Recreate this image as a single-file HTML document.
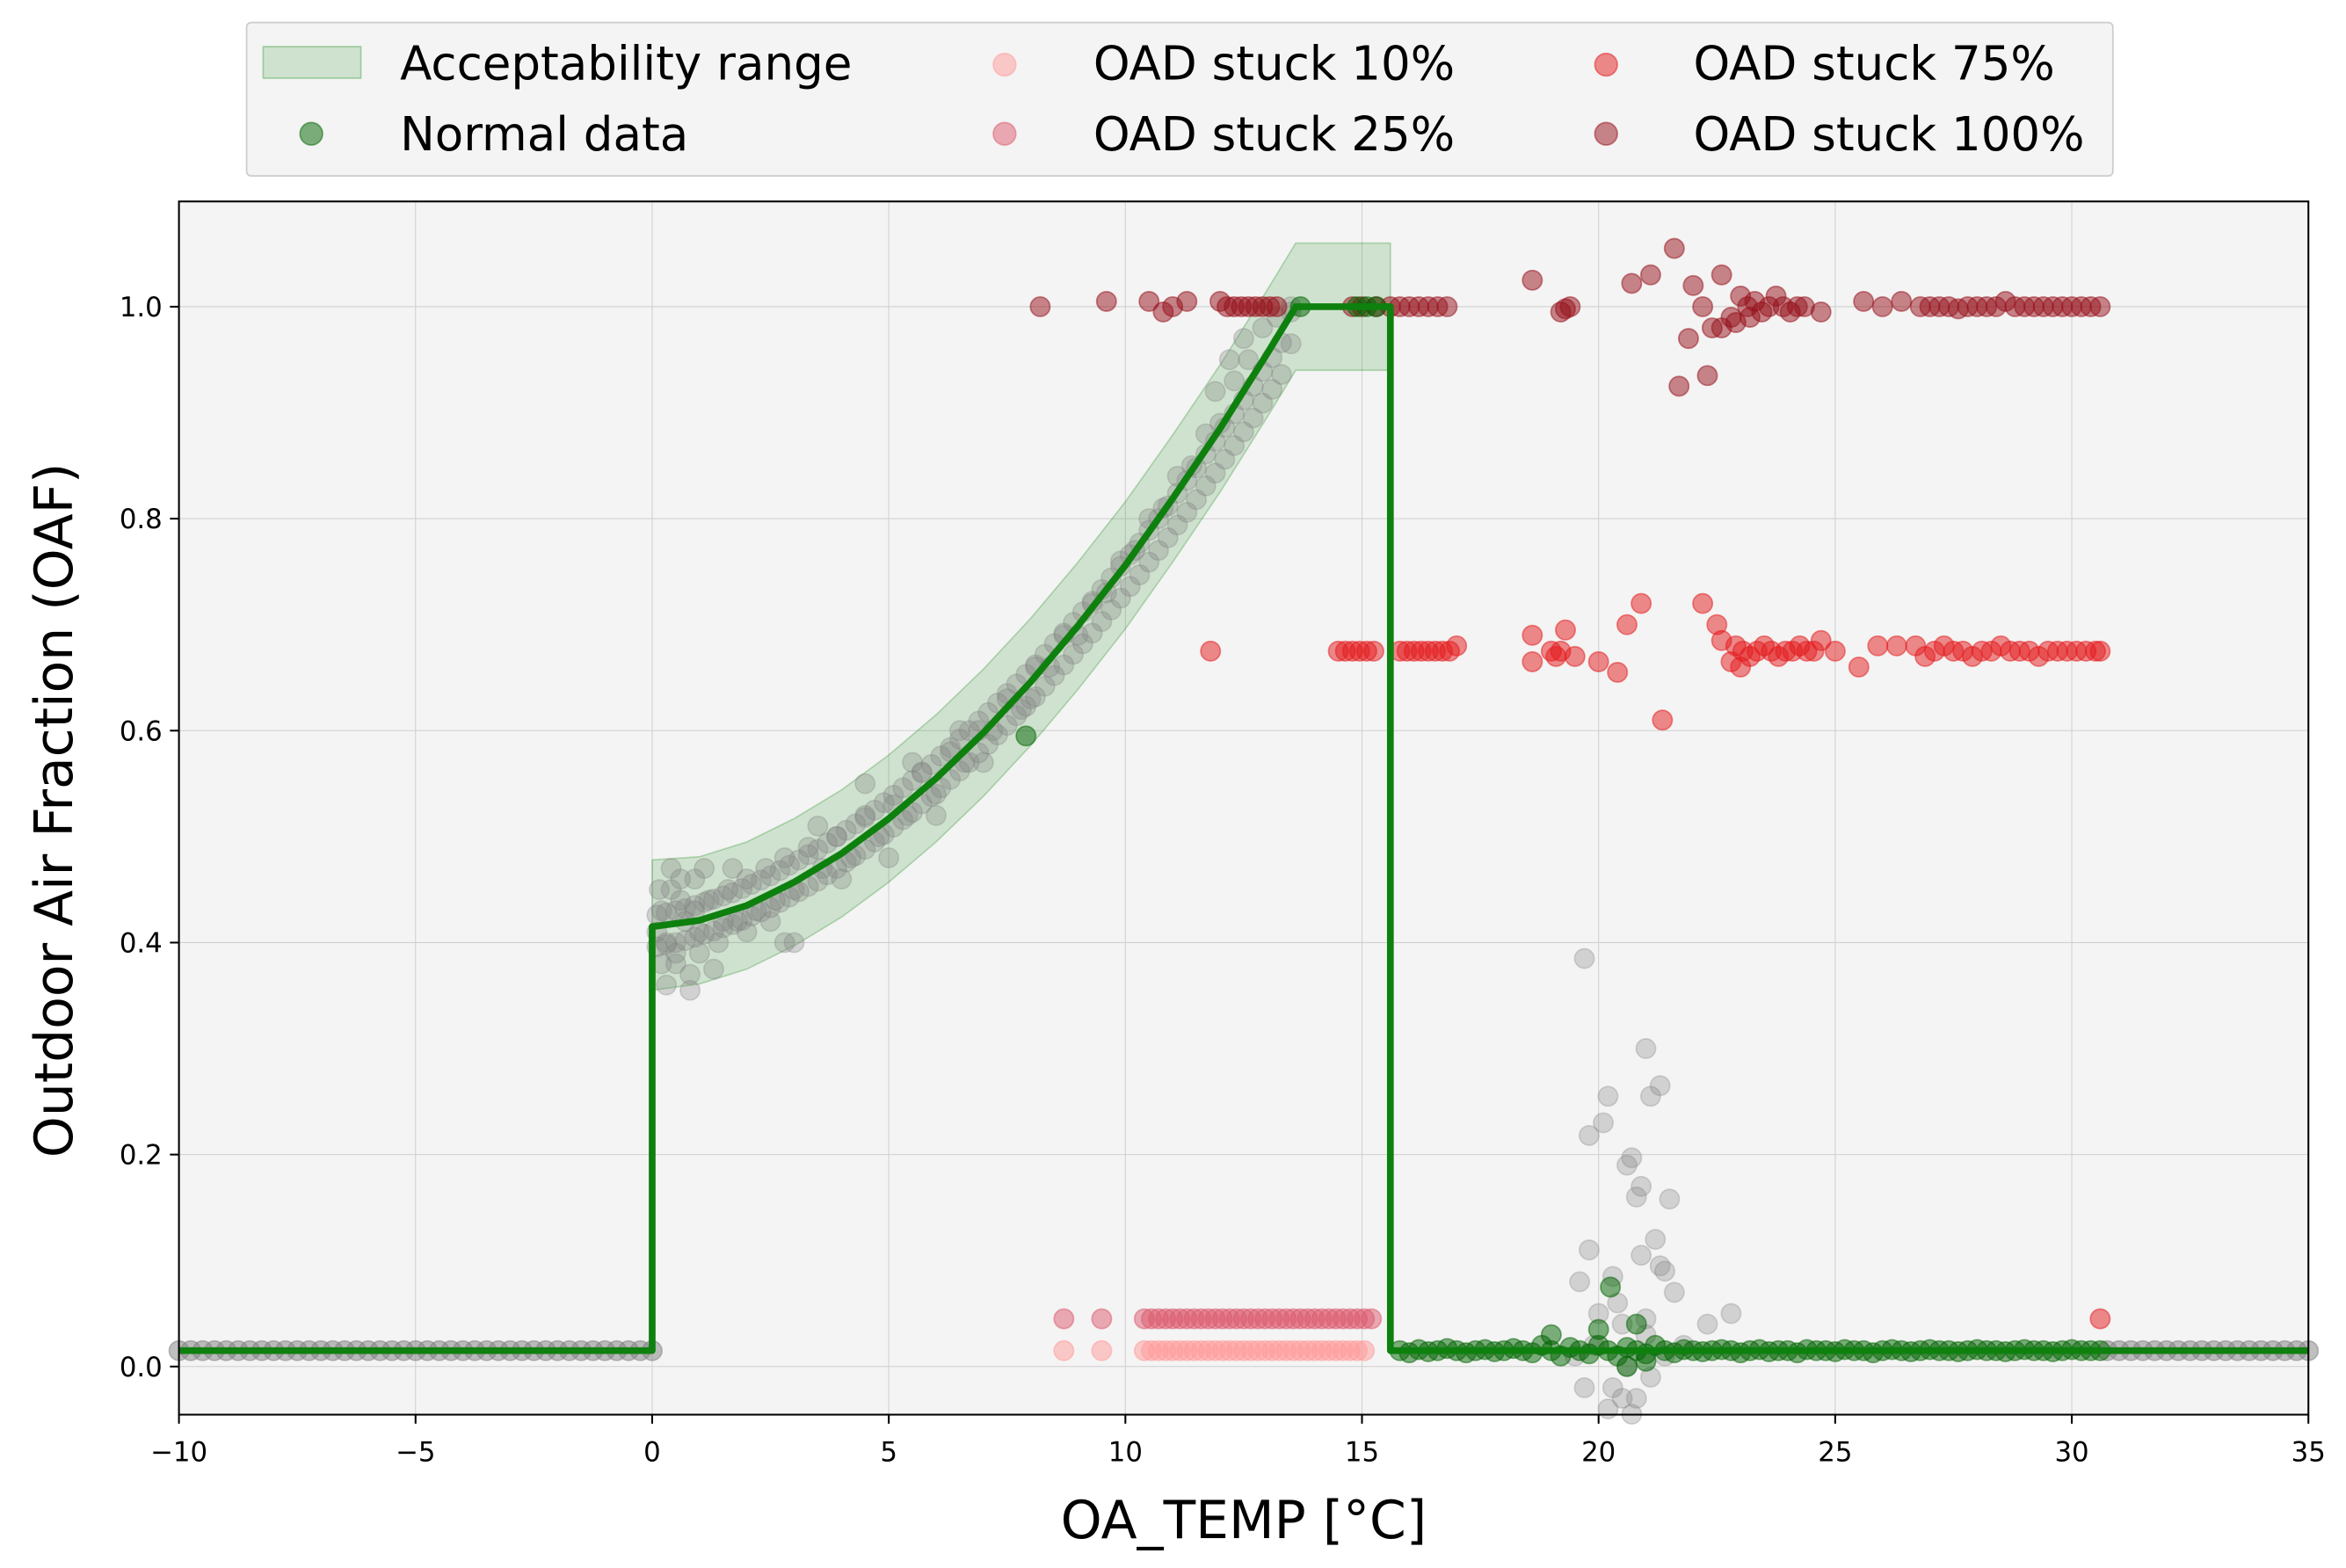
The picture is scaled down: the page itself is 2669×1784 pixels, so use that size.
<!DOCTYPE html>
<html><head><meta charset="utf-8"><style>
html,body{margin:0;padding:0;background:#fff;}
svg{display:block;font-family:"DejaVu Sans","Liberation Sans",sans-serif;}
</style></head><body>
<svg id="chart" width="2669" height="1784" viewBox="0 0 1560 1043" preserveAspectRatio="none" xmlns="http://www.w3.org/2000/svg">
<rect x="119" y="134" width="1416" height="807" fill="#f4f4f4"/>
<g id="grid"></g>
<g id="band"></g>
<g id="marks"></g>
<g id="line"></g>
<rect x="119" y="134" width="1416" height="807" fill="none" stroke="#000" stroke-width="1.2"/>
<g id="ticks"></g>
<text x="827" y="1023" font-size="35" text-anchor="middle">OA_TEMP [°C]</text>
<text x="0" y="0" font-size="35" text-anchor="middle" transform="translate(48,539) rotate(-90)">Outdoor Air Fraction (OAF)</text>
<g>
<rect x="164" y="15" width="1241" height="102" rx="3" fill="#f4f4f4" stroke="#cccccc" stroke-width="1"/>
<rect x="175" y="31" width="65" height="21" fill="rgba(0,128,0,0.15)" stroke="rgba(0,128,0,0.3)"/>
<text x="266" y="53" font-size="31">Acceptability range</text>
<circle cx="207" cy="89" r="7.5" fill="rgba(0,100,0,0.5)" stroke="rgba(0,100,0,0.5)"/>
<text x="266" y="100" font-size="31">Normal data</text>
<circle cx="668" cy="43" r="7.5" fill="rgba(255,153,153,0.5)" stroke="rgba(255,153,153,0.5)"/>
<text x="727" y="53" font-size="31">OAD stuck 10%</text>
<circle cx="668" cy="89" r="7.5" fill="rgba(220,90,110,0.5)" stroke="rgba(220,90,110,0.5)"/>
<text x="727" y="100" font-size="31">OAD stuck 25%</text>
<circle cx="1068" cy="43" r="7.5" fill="rgba(227,26,28,0.5)" stroke="rgba(227,26,28,0.5)"/>
<text x="1126" y="53" font-size="31">OAD stuck 75%</text>
<circle cx="1068" cy="89" r="7.5" fill="rgba(150,15,25,0.5)" stroke="rgba(150,15,25,0.5)"/>
<text x="1126" y="100" font-size="31">OAD stuck 100%</text>
</g>
</svg>
<script>
const xTicks = [-10,-5,0,5,10,15,20,25,30,35];
const yTicks = [0.0,0.2,0.4,0.6,0.8,1.0];
const yTickLabels = ["0.0","0.2","0.4","0.6","0.8","1.0"];
const xTickLabels = ["\u221210","\u22125","0","5","10","15","20","25","30","35"];

const lineX = [-10,0,0,1,2,3,4,5,6,7,8,9,10,11,12,13,13.6,15.6,15.6,35];
const lineY = [0.015,0.015,0.415,0.421,0.435,0.457,0.484,0.517,0.555,0.598,0.646,0.699,0.756,0.819,0.885,0.956,1.0,1.0,0.015,0.015];
const bandX = [0,1,2,3,4,5,6,7,8,9,10,11,12,13,13.6,15.6];
const bandLow = [0.355,0.361,0.375,0.397,0.424,0.457,0.495,0.538,0.586,0.639,0.696,0.759,0.825,0.896,0.94,0.94];
const bandHigh = [0.478,0.481,0.495,0.517,0.544,0.577,0.615,0.658,0.706,0.759,0.816,0.879,0.945,1.016,1.06,1.06];

const grayX = [0.1,0.2,0.3,0.4,0.5,0.6,0.7,0.8,0.9,1.0,1.2,1.4,1.6,1.8,2.0,2.2,2.4,2.6,2.8,3.0,3.3,3.6,3.9,4.2,4.5,4.8,5.1,5.4,5.7,6.0,6.3,6.6,6.9,7.2,7.5,7.8,8.1,8.4,8.7,9.0,9.3,9.6,9.9,10.2,10.5,10.8,11.1,11.4,11.7,12.0,12.3,12.6,12.9,13.2,13.5,
0.3,0.5,0.8,1.0,1.3,0.4,0.6,0.9,1.5,2.0,2.5,3.0,2.8,4.0,5.0,6.0,7.0,8.0,0.2,0.15,1.1,1.7,3.5,4.5,5.5,6.5,12.2,12.5,11.9,
19.7,21.0,21.3,20.2,21.1,20.1,19.8,20.7,20.6,20.9,20.8,21.5,21.2,19.8,20.9,21.3,21.4,20.3,19.6,21.6,20.4,20.0,20.5,21.0,19.9,20.6,21.1,20.3,20.8,19.7,21.4,20.2,20.7,21.0,20.5,22.3,22.8,19.5,21.8];
const grayY = [0.41,0.43,0.40,0.45,0.39,0.44,0.42,0.37,0.46,0.41,0.44,0.40,0.45,0.42,0.46,0.43,0.47,0.44,0.48,0.45,0.49,0.47,0.50,0.48,0.52,0.50,0.53,0.52,0.56,0.54,0.58,0.57,0.60,0.60,0.63,0.62,0.66,0.66,0.69,0.69,0.72,0.73,0.76,0.77,0.80,0.81,0.84,0.85,0.88,0.89,0.93,0.95,0.98,0.99,1.0,
0.36,0.38,0.355,0.39,0.375,0.47,0.46,0.43,0.42,0.41,0.42,0.40,0.40,0.46,0.48,0.52,0.57,0.63,0.38,0.45,0.47,0.47,0.51,0.55,0.57,0.60,0.95,0.97,0.92,
0.385,0.30,0.265,0.255,0.255,0.23,0.218,0.197,0.19,0.17,0.16,0.158,0.12,0.11,0.105,0.095,0.09,0.085,0.08,0.07,0.06,0.05,0.04,0.03,0.02,0.0,-0.01,-0.02,-0.03,-0.02,0.01,-0.04,-0.045,0.045,-0.03,0.04,0.05,0.01,0.02];

const grayCurveX = [0.1,0.3,0.5,0.7,0.9,1.1,1.3,1.5,1.7,1.9,2.1,2.3,2.5,2.7,2.9,3.1,3.3,3.5,3.7,3.9,4.1,4.3,4.5,4.7,4.9,5.1,5.3,5.5,5.7,5.9,6.1,6.3,6.5,6.7,6.9,7.1,7.3,7.5,7.7,7.9,8.1,8.3,8.5,8.7,8.9,9.1,9.3,9.5,9.7,9.9,10.1,10.3,10.5,10.7,10.9,11.1,11.3,11.5,11.7,11.9,12.1,12.3,12.5,12.7,12.9,13.1,13.3,13.5];
const grayCurveLowY = [0.396,0.398,0.400,0.402,0.405,0.408,0.411,0.414,0.417,0.421,0.425,0.429,0.433,0.438,0.443,0.448,0.453,0.458,0.464,0.470,0.476,0.482,0.488,0.495,0.502,0.509,0.516,0.523,0.531,0.538,0.546,0.554,0.562,0.570,0.579,0.587,0.596,0.605,0.614,0.623,0.632,0.642,0.652,0.662,0.672,0.682,0.692,0.703,0.714,0.725,0.736,0.747,0.759,0.770,0.782,0.794,0.806,0.818,0.831,0.843,0.856,0.869,0.882,0.895,0.909,0.922,0.936,0.965];
const grayCurveHighY = [0.426,0.428,0.430,0.432,0.435,0.438,0.441,0.444,0.447,0.451,0.455,0.459,0.463,0.468,0.473,0.478,0.483,0.488,0.494,0.500,0.506,0.512,0.518,0.525,0.532,0.539,0.546,0.553,0.561,0.568,0.576,0.584,0.592,0.600,0.609,0.617,0.626,0.635,0.644,0.653,0.662,0.672,0.682,0.692,0.702,0.712,0.722,0.733,0.744,0.755,0.766,0.777,0.789,0.800,0.812,0.824,0.836,0.848,0.861,0.873,0.886,0.899,0.912,0.925,0.939,0.952,0.966,0.995];

const grayBaseX = [-10,-9.75,-9.5,-9.25,-9,-8.75,-8.5,-8.25,-8,-7.75,-7.5,-7.25,-7,-6.75,-6.5,-6.25,-6,-5.75,-5.5,-5.25,-5,-4.75,-4.5,-4.25,-4,-3.75,-3.5,-3.25,-3,-2.75,-2.5,-2.25,-2,-1.75,-1.5,-1.25,-1,-0.75,-0.5,-0.25,0,30.75,31,31.25,31.5,31.75,32,32.25,32.5,32.75,33,33.25,33.5,33.75,34,34.25,34.5,34.75,35];
const grayBaseY = [0.015,0.015,0.015,0.015,0.015,0.015,0.015,0.015,0.015,0.015,0.015,0.015,0.015,0.015,0.015,0.015,0.015,0.015,0.015,0.015,0.015,0.015,0.015,0.015,0.015,0.015,0.015,0.015,0.015,0.015,0.015,0.015,0.015,0.015,0.015,0.015,0.015,0.015,0.015,0.015,0.015,0.015,0.015,0.015,0.015,0.015,0.015,0.015,0.015,0.015,0.015,0.015,0.015,0.015,0.015,0.015,0.015,0.015,0.015];

const greenX = [13.7,14.9,15.1,15.3,7.9,20.25,20.8,19.0,20.0,21.0,20.6];
const greenY = [1.0,1.0,1.0,1.0,0.595,0.075,0.04,0.03,0.035,0.005,0.0];
const greenBaseX = [15.8,16,16.2,16.4,16.6,16.8,17,17.2,17.4,17.6,17.8,18,18.2,18.4,18.6,18.8,19,19.2,19.4,19.6,19.8,20,20.2,20.4,20.6,20.8,21,21.2,21.4,21.6,21.8,22,22.2,22.4,22.6,22.8,23,23.2,23.4,23.6,23.8,24,24.2,24.4,24.6,24.8,25,25.2,25.4,25.6,25.8,26,26.2,26.4,26.6,26.8,27,27.2,27.4,27.6,27.8,28,28.2,28.4,28.6,28.8,29,29.2,29.4,29.6,29.8,30,30.2,30.4,30.6];
const greenBaseY = [0.015,0.013,0.016,0.014,0.015,0.017,0.015,0.013,0.015,0.016,0.014,0.015,0.017,0.015,0.013,0.02,0.015,0.01,0.018,0.015,0.012,0.02,0.015,0.01,0.018,0.015,0.012,0.02,0.015,0.013,0.016,0.015,0.014,0.015,0.016,0.015,0.013,0.015,0.016,0.014,0.015,0.015,0.013,0.016,0.015,0.015,0.014,0.016,0.015,0.015,0.013,0.015,0.016,0.015,0.014,0.015,0.016,0.015,0.015,0.014,0.015,0.016,0.015,0.015,0.014,0.015,0.016,0.015,0.015,0.014,0.015,0.016,0.015,0.015,0.015];

const s10X = [8.7,9.5,10.4,10.55,10.7,10.85,11.0,11.15,11.3,11.45,11.6,11.75,11.9,12.05,12.2,12.35,12.5,12.65,12.8,12.95,13.1,13.25,13.4,13.55,13.7,13.85,14.0,14.15,14.3,14.45,14.6,14.75,14.9,15.05];
const s10Y = [0.015,0.015,0.015,0.015,0.015,0.015,0.015,0.015,0.015,0.015,0.015,0.015,0.015,0.015,0.015,0.015,0.015,0.015,0.015,0.015,0.015,0.015,0.015,0.015,0.015,0.015,0.015,0.015,0.015,0.015,0.015,0.015,0.015,0.015];
const s25X = [8.7,9.5,10.4,10.55,10.7,10.85,11.0,11.15,11.3,11.45,11.6,11.75,11.9,12.05,12.2,12.35,12.5,12.65,12.8,12.95,13.1,13.25,13.4,13.55,13.7,13.85,14.0,14.15,14.3,14.45,14.6,14.75,14.9,15.05,15.2];
const s25Y = [0.045,0.045,0.045,0.045,0.045,0.045,0.045,0.045,0.045,0.045,0.045,0.045,0.045,0.045,0.045,0.045,0.045,0.045,0.045,0.045,0.045,0.045,0.045,0.045,0.045,0.045,0.045,0.045,0.045,0.045,0.045,0.045,0.045,0.045,0.045];

const s75X = [11.8,14.5,14.65,14.8,14.95,15.1,15.25,15.8,15.95,16.1,16.25,16.4,16.55,16.7,16.85,17.0,18.6,18.6,19.0,19.1,19.2,19.3,19.5,20.0,20.4,20.6,20.9,21.35,22.2,22.5,22.6,22.8,23.0,
22.9,23.05,23.2,23.35,23.5,23.65,23.8,23.95,24.1,24.25,24.4,24.55,24.7,25.0,25.5,25.9,26.3,26.7,
26.9,27.1,27.3,27.5,27.7,27.9,28.1,28.3,28.5,28.7,28.9,29.1,29.3,29.5,29.7,29.9,30.1,30.3,30.5,30.6,30.6];
const s75Y = [0.675,0.675,0.675,0.675,0.675,0.675,0.675,0.675,0.675,0.675,0.675,0.675,0.675,0.675,0.675,0.68,0.69,0.665,0.675,0.67,0.675,0.695,0.67,0.665,0.655,0.70,0.72,0.61,0.72,0.70,0.685,0.665,0.66,
0.68,0.675,0.67,0.675,0.68,0.675,0.67,0.675,0.675,0.68,0.675,0.675,0.685,0.675,0.66,0.68,0.68,0.68,
0.67,0.675,0.68,0.675,0.675,0.67,0.675,0.675,0.68,0.675,0.675,0.675,0.67,0.675,0.675,0.675,0.675,0.675,0.675,0.675,0.045];

const s100X = [8.2,9.6,10.5,10.8,11.0,11.3,12.0,12.15,12.3,12.45,12.6,12.75,12.9,13.05,13.2,14.8,15.0,15.3,15.6,15.8,16.0,16.2,16.4,16.6,16.8,18.6,19.2,19.4,19.3,20.7,21.1,21.6,21.7,22.0,22.2,21.9,22.3,22.4,22.6,22.8,23.0,
23.15,23.3,23.45,23.6,23.75,23.9,24.05,24.2,24.35,22.6,22.9,23.2,24.7,25.6,26.0,26.4,26.8,
27.0,27.2,27.4,27.6,27.8,28.0,28.2,28.4,28.6,28.8,29.0,29.2,29.4,29.6,29.8,30.0,30.2,30.4,30.6];
const s100Y = [1.0,1.005,1.005,0.995,1.0,1.005,1.005,1.0,1.0,1.0,1.0,1.0,1.0,1.0,1.0,1.0,1.0,1.0,1.0,1.0,1.0,1.0,1.0,1.0,1.0,1.025,0.995,1.0,0.998,1.022,1.03,1.055,0.925,1.02,1.0,0.97,0.935,0.98,1.03,0.99,1.01,
1.0,1.005,0.995,1.0,1.01,1.0,0.995,1.0,1.0,0.98,0.985,0.99,0.995,1.005,1.0,1.005,1.0,
1.0,1.0,1.0,0.998,1.0,1.0,1.0,1.0,1.005,1.0,1.0,1.0,1.0,1.0,1.0,1.0,1.0,1.0,1.0];

const NS = "http://www.w3.org/2000/svg";
const X0 = 119, X1 = 1535, Y0 = 941, Y1 = 134;
const xMin = -10, xMax = 35, yMin = -0.0454, yMax = 1.0993;
function sx(v){ return X0 + (v - xMin) / (xMax - xMin) * (X1 - X0); }
function sy(v){ return Y0 - (v - yMin) / (yMax - yMin) * (Y0 - Y1); }
function mk(tag, attrs, parent){ const e = document.createElementNS(NS, tag); for (const k in attrs) e.setAttribute(k, attrs[k]); parent.appendChild(e); return e; }

const grid = document.getElementById('grid');
const ticks = document.getElementById('ticks');
xTicks.forEach((t, i) => {
  const gl = mk('line', {x1: sx(t), x2: sx(t), y1: Y1, y2: Y0, stroke: '#cfcfcf', 'stroke-width': 0.6}, grid);
  
  
  const tk = mk('line', {x1: sx(t), x2: sx(t), y1: Y0, y2: Y0 + 6, stroke: '#000', 'stroke-width': 1.2}, ticks);
  
  
  const lb = mk('text', {x: sx(t), y: Y0 + 31, 'font-size': 18, 'text-anchor': 'middle'}, ticks);
  lb.textContent = xTickLabels[i];
  
  
});
yTicks.forEach((t, i) => {
  const gl = mk('line', {x1: X0, x2: X1, y1: sy(t), y2: sy(t), stroke: '#cfcfcf', 'stroke-width': 0.6}, grid);
  
  
  const tk = mk('line', {x1: X0 - 6, x2: X0, y1: sy(t), y2: sy(t), stroke: '#000', 'stroke-width': 1.2}, ticks);
  
  
  const lb = mk('text', {x: X0 - 11, y: sy(t) + 6.5, 'font-size': 18, 'text-anchor': 'end'}, ticks);
  lb.textContent = yTickLabels[i];
  
  
});

const band = document.getElementById('band');
let bp = bandX.map((x, i) => sx(x) + ',' + sy(bandHigh[i]));
for (let i = bandX.length - 1; i >= 0; i--) bp.push(sx(bandX[i]) + ',' + sy(bandLow[i]));
const poly = mk('polygon', {points: bp.join(' '), fill: 'rgba(0,128,0,0.15)', stroke: 'rgba(0,128,0,0.25)', 'stroke-width': 1}, band);



const marks = document.getElementById('marks');
function scatter(xs, ys, color, name){
  const g = mk('g', {}, marks);
  
  
  xs.forEach((x, i) => {
    if (ys[i] === undefined) return;
    const c = mk('circle', {cx: sx(x), cy: sy(ys[i]), r: 6.5, fill: color, stroke: color, 'stroke-width': 1}, g);
    
    
  });
}
const gcol = 'rgba(128,128,128,0.3)';
scatter(grayBaseX, grayBaseY, 'rgba(128,128,128,0.5)', 'normal-gray-baseline');
scatter(grayCurveX, grayCurveLowY, gcol, 'normal-gray-curve-low');
scatter(grayCurveX, grayCurveHighY, gcol, 'normal-gray-curve-high');
scatter(grayX, grayY, gcol, 'normal-gray-data');
scatter(s10X, s10Y, 'rgba(255,153,153,0.5)', 'stuck-10');
scatter(s25X, s25Y, 'rgba(220,90,110,0.5)', 'stuck-25');
scatter(s75X, s75Y, 'rgba(227,26,28,0.5)', 'stuck-75');
scatter(s100X, s100Y, 'rgba(150,15,25,0.5)', 'stuck-100');
scatter(greenBaseX, greenBaseY, 'rgba(0,100,0,0.5)', 'normal-data-baseline');
scatter(greenX, greenY, 'rgba(0,100,0,0.5)', 'normal-data');

const lineG = document.getElementById('line');
const pl = mk('polyline', {points: lineX.map((x, i) => sx(x) + ',' + sy(lineY[i])).join(' '), fill: 'none', stroke: '#0e800e', 'stroke-width': 4.5, 'stroke-linejoin': 'round'}, lineG);


</script>
</body></html>
